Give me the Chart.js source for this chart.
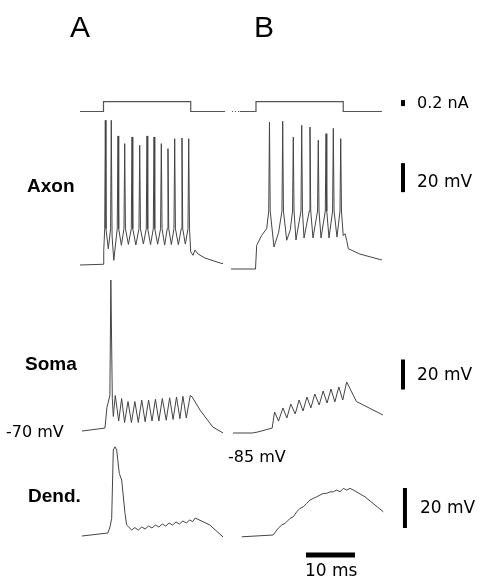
<!DOCTYPE html>
<html>
<head>
<meta charset="utf-8">
<script src="https://cdn.jsdelivr.net/npm/chart.js@4.4.1/dist/chart.umd.min.js"></script>
<style>
  html, body { margin: 0; padding: 0; background: #fff; }
  canvas { display: block; }
</style>
</head>
<body>
<canvas id="traces" width="482" height="580"></canvas>
<script>
// Times in ms from current onset, voltages in mV, current in nA

// Injected current step
const currentA = [[-4.8, 0], [0, 0], [0, 0.33], [17.8, 0.33], [17.8, 0], [24.8, 0]];
const currentB = [[-4.9, 0], [-3.3, 0], [0, 0], [0, 0.33], [17.8, 0.33], [17.8, 0], [25.7, 0]];

// Axon
const axonA = [
  [-4.8, -70], [-0.1, -69.5], [0.05, -60], [0.25, -45], [0.37, 29.8], [0.5, -45],
  [0.98, -58.8], [1.45, -45], [1.59, 29.8], [1.75, -50], [2.1, -66.8], [2.8, -45],
  [2.96, 19], [3.1, -45], [3.65, -56.4], [4.18, -45], [4.33, 13.7], [4.48, -45],
  [5.08, -55.8], [5.67, -45], [5.82, 18.3], [5.97, -45], [6.6, -56.2], [7.24, -45],
  [7.39, 12.6], [7.54, -45], [8.14, -55.5], [8.73, -45], [8.88, 19], [9.03, -45],
  [9.6, -56], [10.16, -45], [10.31, 18.3], [10.46, -45], [11.05, -55.7], [11.65, -45],
  [11.8, 13.7], [11.95, -45], [12.48, -56.3], [13.01, -45], [13.16, 10.2], [13.31, -45],
  [13.85, -55.9], [14.38, -45], [14.53, 17.1], [14.68, -45], [15.28, -56], [15.87, -45],
  [16.02, 17.6], [16.17, -45], [16.7, -55.6], [17.24, -45], [17.39, 17.1], [17.55, -45],
  [17.8, -61], [18.27, -63.3], [18.67, -59.7], [19.3, -62.4], [20.7, -65.2], [23.8, -68.6],
  [24.4, -69]
];
const axonB = [
  [-5.1, -85], [-0.1, -85], [0.14, -68.7], [1.16, -61.8], [2.18, -57.2], [2.6, -45],
  [2.75, 16.4], [2.9, -45], [3.67, -69.8], [4.6, -60], [5.3, -45], [5.45, 16.9],
  [5.6, -45], [6.27, -65.2], [7.0, -58], [7.46, -45], [7.61, 6], [7.76, -45],
  [8.16, -65], [9.18, -45], [9.33, 14.1], [9.48, -45], [9.8, -63.6], [10.87, -45],
  [11.02, 12.9], [11.17, -45], [11.63, -63.6], [12.56, -45], [12.71, 3.8], [12.86, -45],
  [13.27, -63.6], [14.14, -45], [14.29, 8.3], [14.44, -45], [14.9, -63.6], [15.63, -45],
  [15.78, 12], [15.93, -45], [16.53, -63], [17.14, -45], [17.29, 4.9], [17.44, -45],
  [17.8, -62], [18.16, -60.7], [18.51, -65.2], [18.84, -71], [21.2, -74.7], [25.7, -78.8]
];

// Soma
const somaA = [
  [-4.4, -70.7], [0.3, -68.7], [0.7, -55], [1.3, -47], [1.5, 30], [1.8, -49], [2.0, -61],
  [2.4, -47], [3.1, -64], [3.7, -49], [4.3, -65], [5.0, -51], [5.7, -65], [6.4, -51],
  [7.1, -65], [7.8, -50], [8.5, -64.5], [9.2, -50], [9.9, -64], [10.6, -49.5], [11.3, -64],
  [12.0, -49], [12.8, -63.5], [13.5, -48.5], [14.2, -63], [14.9, -48], [15.6, -62.5],
  [16.2, -47.5], [16.9, -62], [17.7, -47], [18.1, -48], [19.7, -56.7], [22.3, -68], [24.4, -72]
];
const somaB = [
  [-4.7, -85], [-0.8, -85], [0.4, -84.3], [3.3, -81.7], [3.6, -75], [3.8, -71], [4.6, -77],
  [5.5, -68.3], [6.3, -75], [7.1, -65.7], [8.0, -72.3], [8.8, -63], [9.6, -70.3], [10.4, -61],
  [11.2, -68.3], [12.0, -59], [12.9, -66.3], [13.7, -57], [14.5, -65], [15.3, -55.7],
  [16.1, -64.3], [16.9, -54.3], [17.7, -63], [18.5, -51], [20.5, -64], [25.9, -73]
];

// Dendrite
const dendA = [
  [-4.4, -70], [0.9, -68.5], [1.33, -65.4], [1.67, -61.2], [2.0, -27], [2.35, -25.4],
  [2.69, -27], [3.22, -38.7], [3.71, -42], [4.39, -58.7], [4.73, -64.5], [5.76, -67],
  [6.4, -65.8], [7.1, -67], [7.8, -65.5], [8.5, -66.5], [9.2, -65], [9.9, -66], [10.6, -64.5],
  [11.3, -65.5], [12.0, -64], [12.7, -65], [13.4, -63.5], [14.1, -64.5], [14.8, -63],
  [15.5, -64], [16.2, -62.5], [16.9, -63.5], [17.6, -62], [18.2, -62.8], [18.7, -61],
  [21.7, -64.5], [24.4, -70.5]
];
const dendB = [
  [-2.9, -84.9], [3.5, -84], [4.55, -80.6], [5.24, -79], [5.92, -78.2], [6.27, -77.4],
  [6.94, -75.7], [7.61, -74.9], [8.31, -72.4], [8.98, -70.7], [9.65, -69.9], [10.35, -68.2],
  [11.02, -66.5], [11.69, -65.7], [12.39, -64.9], [13.06, -64], [13.73, -63.2], [14.43, -63.2],
  [15.1, -62.4], [15.78, -62.4], [16.47, -61.5], [17.14, -62.4], [17.82, -60.7], [18.51, -61.5],
  [19.18, -60.7], [19.86, -61.5], [22.24, -64.9], [25.98, -72.4]
];

// Scale bar sizes
const barCurrent = 0.2;   // nA
const barVoltage = 20;    // mV
const barTime = 10;       // ms

// ---- layout (pixels) ----
const W = 482, H = 580;
const PX_PER_MS = 4.9;

function xScale(zeroPx) {
  const min = -zeroPx / PX_PER_MS;
  return { type: 'linear', axis: 'x', display: false, min: min, max: min + W / PX_PER_MS };
}

function yScale(refValue, refPx, pxPerUnit) {
  const max = refValue + refPx / pxPerUnit;
  return { type: 'linear', axis: 'y', display: false, min: max - H / pxPerUnit, max: max };
}

const scales = {
  xA: xScale(103.5),
  xB: xScale(256),
  yCur: yScale(0, 111.5, 30),
  yAxonA: yScale(-70, 265, 1.45),
  yAxonB: yScale(-85, 269, 1.45),
  ySomaA: yScale(-70, 430, 1.5),
  ySomaB: yScale(-85, 433, 1.5),
  yDendA: yScale(-70, 536, 2),
  yDendB: yScale(-85, 537, 2)
};

function toPoints(pairs) {
  return pairs.map(p => ({ x: p[0], y: p[1] }));
}

function trace(pairs, xId, yId, color, width) {
  return {
    data: toPoints(pairs),
    xAxisID: xId,
    yAxisID: yId,
    borderColor: color,
    borderWidth: width,
    pointRadius: 0,
    tension: 0,
    showLine: true,
    fill: false,
    clip: false
  };
}

const traceColor = '#444';
const stimB = trace(currentB, 'xB', 'yCur', '#555', 1.2);
// the recorded lead-in of the B current trace is dotted
stimB.segment = { borderDash: ctx => (ctx.p0DataIndex === 0 ? [1, 2] : undefined) };

// scale bars sit at the right of panel B
const barT = 30;
const datasets = [
  trace(currentA, 'xA', 'yCur', '#555', 1.2),
  stimB,
  trace(axonA, 'xA', 'yAxonA', traceColor, 1),
  trace(axonB, 'xB', 'yAxonB', traceColor, 1),
  trace(somaA, 'xA', 'ySomaA', traceColor, 1),
  trace(somaB, 'xB', 'ySomaB', traceColor, 1),
  trace(dendA, 'xA', 'yDendA', traceColor, 1),
  trace(dendB, 'xB', 'yDendB', traceColor, 1),
  trace([[barT, 0.18], [barT, 0.18 + barCurrent]], 'xB', 'yCur', '#000', 4),
  trace([[barT, -32], [barT, -32 + barVoltage]], 'xB', 'yAxonB', '#000', 4),
  trace([[barT, -56], [barT, -56 + barVoltage]], 'xB', 'ySomaB', '#000', 4),
  trace([[barT + 0.4, -80.5], [barT + 0.4, -80.5 + barVoltage]], 'xB', 'yDendB', '#000', 4),
  trace([[10.2, -94], [10.2 + barTime, -94]], 'xB', 'yDendB', '#000', 5)
];

const texts = [
  { text: 'A', x: 70, y: 37, font: '30px "Liberation Sans"' },
  { text: 'B', x: 254, y: 37, font: '30px "Liberation Sans"' },
  { text: 'Axon', x: 27, y: 192, font: 'bold 19px "Liberation Sans"' },
  { text: 'Soma', x: 25, y: 370, font: 'bold 19px "Liberation Sans"' },
  { text: 'Dend.', x: 28, y: 502, font: 'bold 19px "Liberation Sans"' },
  { text: '-70 mV', x: 6, y: 437, font: '16px "DejaVu Sans"' },
  { text: '-85 mV', x: 228, y: 462, font: '16px "DejaVu Sans"' },
  { text: '0.2 nA', x: 417, y: 108, font: '16px "DejaVu Sans"' },
  { text: '20 mV', x: 417, y: 187, font: '17px "DejaVu Sans"' },
  { text: '20 mV', x: 417, y: 380, font: '17px "DejaVu Sans"' },
  { text: '20 mV', x: 420, y: 513, font: '17px "DejaVu Sans"' },
  { text: '10 ms', x: 305, y: 576, font: '17px "DejaVu Sans"' }
];

const textPlugin = {
  id: 'figureText',
  afterDraw(chart) {
    const ctx = chart.ctx;
    ctx.save();
    ctx.fillStyle = '#000';
    ctx.textAlign = 'left';
    ctx.textBaseline = 'alphabetic';
    texts.forEach(t => {
      ctx.font = t.font;
      ctx.fillText(t.text, t.x, t.y);
    });
    ctx.restore();
  }
};

new Chart(document.getElementById('traces'), {
  type: 'scatter',
  data: { datasets: datasets },
  options: {
    responsive: false,
    animation: false,
    layout: { padding: 0 },
    scales: scales,
    plugins: {
      legend: { display: false },
      tooltip: { enabled: false },
      title: { display: false }
    }
  },
  plugins: [textPlugin]
});
</script>
</body>
</html>
